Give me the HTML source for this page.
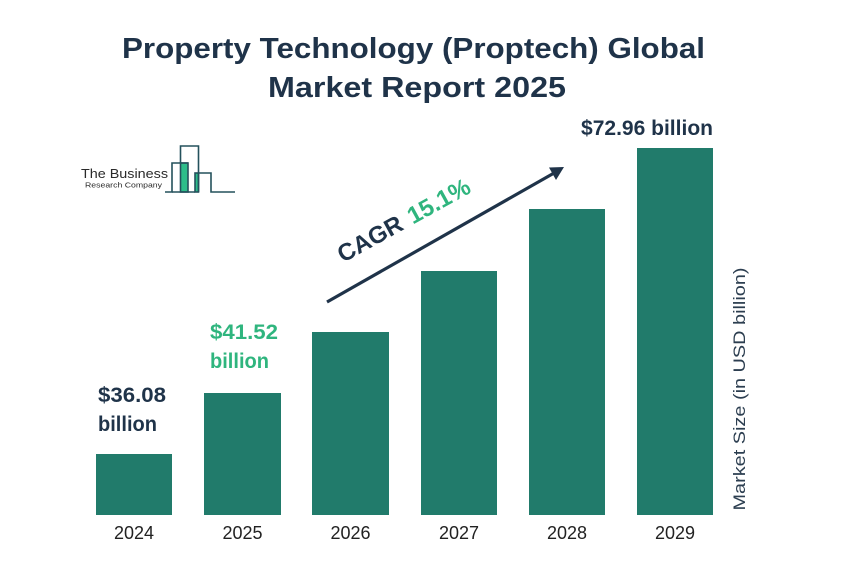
<!DOCTYPE html>
<html>
<head>
<meta charset="utf-8">
<style>
html,body{margin:0;padding:0;background:#fff;}
svg{display:block;}
text{font-family:"Liberation Sans",Arial,sans-serif;}
</style>
</head>
<body>
<svg width="854" height="581" viewBox="0 0 854 581" xmlns="http://www.w3.org/2000/svg">
<rect width="854" height="581" fill="#ffffff"/>
<!-- Title -->
<text x="413.5" y="58" text-anchor="middle" font-size="29" font-weight="bold" fill="#1f3349" textLength="583" lengthAdjust="spacingAndGlyphs">Property Technology (Proptech) Global</text>
<text x="417" y="97" text-anchor="middle" font-size="29" font-weight="bold" fill="#1f3349" textLength="298" lengthAdjust="spacingAndGlyphs">Market Report 2025</text>

<!-- Logo -->
<text x="81" y="178" font-size="13" fill="#2a2a2a" textLength="87" lengthAdjust="spacingAndGlyphs">The Business</text>
<text x="85" y="187.5" font-size="7.5" fill="#2a2a2a" textLength="77" lengthAdjust="spacingAndGlyphs">Research Company</text>
<g fill="none" stroke="#24515c" stroke-width="1.6">
<rect x="180.5" y="163" width="7.5" height="29" fill="#2dbd8a"/>
<rect x="195" y="173" width="3.5" height="19" fill="#2dbd8a"/>
<polyline points="165,192 172,192 172,163 188,163"/>
<polyline points="180.5,163 180.5,146 198.5,146 198.5,192"/>
<polyline points="198.5,173 211,173 211,192 235,192"/>
<line x1="172" y1="192" x2="195" y2="192"/>
</g>

<!-- Bars -->
<g fill="#217b6b">
<rect x="96" y="454" width="76" height="61"/>
<rect x="204" y="393" width="77" height="122"/>
<rect x="312" y="332" width="77" height="183"/>
<rect x="421" y="271" width="76" height="244"/>
<rect x="529" y="209" width="76" height="306"/>
<rect x="637" y="148" width="76" height="367"/>
</g>

<!-- Year labels -->
<g font-size="18" fill="#222" text-anchor="middle">
<text x="134" y="539">2024</text>
<text x="242.5" y="539">2025</text>
<text x="350.5" y="539">2026</text>
<text x="459" y="539">2027</text>
<text x="567" y="539">2028</text>
<text x="675" y="539">2029</text>
</g>

<!-- Value labels -->
<g font-size="21" font-weight="bold">
<text x="98" y="402" fill="#1f3349" textLength="68" lengthAdjust="spacingAndGlyphs">$36.08</text>
<text x="98" y="431" fill="#1f3349" textLength="59" lengthAdjust="spacingAndGlyphs">billion</text>
<text x="210" y="339" fill="#2fb57e" textLength="68" lengthAdjust="spacingAndGlyphs">$41.52</text>
<text x="210" y="368" fill="#2fb57e" textLength="59" lengthAdjust="spacingAndGlyphs">billion</text>
<text x="581" y="135" fill="#1f3349" textLength="132" lengthAdjust="spacingAndGlyphs">$72.96 billion</text>
</g>

<!-- CAGR arrow -->
<line x1="327" y1="302" x2="555" y2="172.5" stroke="#1f3349" stroke-width="3.2"/>
<polygon points="564,167 549,167.5 556,180" fill="#1f3349"/>
<text transform="translate(343,263) rotate(-28.8)" font-size="24" font-weight="bold" fill="#1f3349">CAGR<tspan fill="#2fb57e" dx="9">15.1%</tspan></text>

<!-- Y axis label -->
<text transform="translate(745,389) rotate(-90)" text-anchor="middle" font-size="17" fill="#2c3e50" textLength="243" lengthAdjust="spacingAndGlyphs">Market Size (in USD billion)</text>
</svg>
</body>
</html>
